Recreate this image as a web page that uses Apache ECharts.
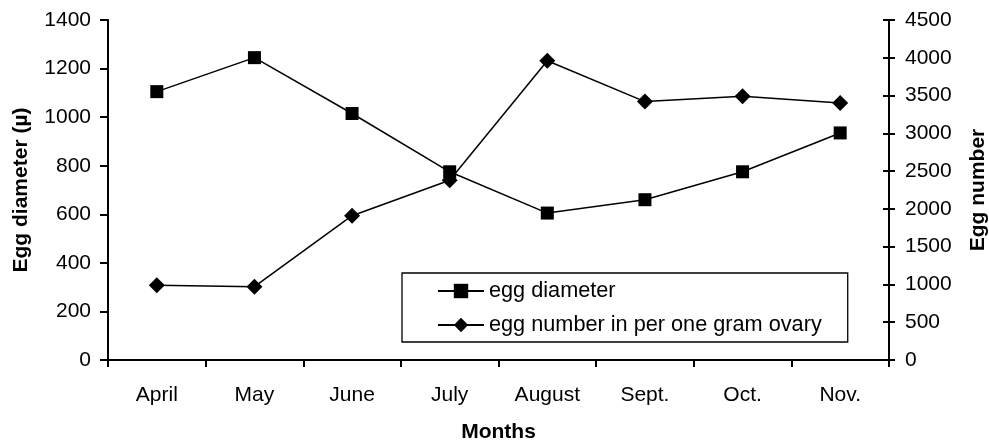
<!DOCTYPE html>
<html>
<head>
<meta charset="utf-8">
<script src="https://cdn.jsdelivr.net/npm/echarts@6/dist/echarts.min.js"></script>
<style>
html,body{margin:0;padding:0;background:#fff;}
#c{width:989px;height:441px;}
</style>
</head>
<body>
<div id="c"></div>
<script>
var months = ['April','May','June','July','August','Sept.','Oct.','Nov.'];
var eggDiameter = [1105, 1245, 1015, 775, 605, 660, 775, 935];
var eggNumber = [990, 970, 1910, 2380, 3960, 3420, 3490, 3400];
var leftTicks = {min: 0, max: 1400, interval: 200};
var rightTicks = {min: 0, max: 4500, interval: 500};

var FONT = '"Liberation Sans", Arial, sans-serif';
var plain = function (v) { return String(v); };
var chart = echarts.init(document.getElementById('c'), null, {renderer: 'canvas'});
var option = {
  animation: false,
  backgroundColor: '#fff',
  textStyle: {fontFamily: FONT},
  grid: {left: 108, right: 100, top: 20, bottom: 81, containLabel: false, outerBoundsMode: 'none'},
  legend: {
    orient: 'vertical',
    left: 402, top: 273,
    padding: [7, 26, 6, 35],
    itemGap: 12,
    itemWidth: 46, itemHeight: 18,
    borderColor: '#000', borderWidth: 1.3,
    textStyle: {fontFamily: FONT, fontSize: 21.7, color: '#000'},
    data: ['egg diameter', 'egg number in per one gram ovary']
  },
  xAxis: {
    type: 'category',
    data: months,
    boundaryGap: true,
    name: 'Months',
    nameLocation: 'middle',
    nameGap: 62,
    nameTextStyle: {fontFamily: FONT, fontSize: 21, fontWeight: 'bold', color: '#000'},
    axisLine: {lineStyle: {color: '#000', width: 2}},
    axisTick: {show: true, length: 7, inside: false, lineStyle: {color: '#000', width: 2}},
    axisLabel: {fontFamily: FONT, fontSize: 21, color: '#000', margin: 25},
    splitLine: {show: false}
  },
  yAxis: [
    {
      type: 'value', position: 'left',
      min: leftTicks.min, max: leftTicks.max, interval: leftTicks.interval,
      name: 'Egg diameter (µ)', nameLocation: 'middle', nameGap: 76, nameRotate: 90,
      nameTextStyle: {fontFamily: FONT, fontSize: 21, fontWeight: 'bold', color: '#000'},
      axisLine: {show: true, lineStyle: {color: '#000', width: 2}},
      axisTick: {show: true, length: 8, lineStyle: {color: '#000', width: 2}},
      axisLabel: {fontFamily: FONT, fontSize: 21, color: '#000', margin: 17, formatter: plain},
      splitLine: {show: false}
    },
    {
      type: 'value', position: 'right',
      min: rightTicks.min, max: rightTicks.max, interval: rightTicks.interval,
      name: 'Egg number', nameLocation: 'middle', nameGap: 79, nameRotate: 90,
      nameTextStyle: {fontFamily: FONT, fontSize: 21, fontWeight: 'bold', color: '#000'},
      axisLine: {show: true, lineStyle: {color: '#000', width: 2}},
      axisTick: {show: true, length: 6, lineStyle: {color: '#000', width: 2}},
      axisLabel: {fontFamily: FONT, fontSize: 21, color: '#000', margin: 16, formatter: plain},
      splitLine: {show: false}
    },
    {
      type: 'value', position: 'right',
      min: rightTicks.min, max: rightTicks.max, interval: rightTicks.interval,
      axisLine: {show: false},
      axisTick: {show: true, inside: true, length: 6, lineStyle: {color: '#000', width: 2}},
      axisLabel: {show: false},
      splitLine: {show: false}
    }
  ],
  series: [
    {
      name: 'egg diameter', type: 'line', yAxisIndex: 0,
      data: eggDiameter,
      symbol: 'rect', symbolSize: 13,
      itemStyle: {color: '#000'},
      lineStyle: {color: '#000', width: 1.5}
    },
    {
      name: 'egg number in per one gram ovary', type: 'line', yAxisIndex: 1,
      data: eggNumber,
      symbol: 'diamond', symbolSize: 16,
      itemStyle: {color: '#000'},
      lineStyle: {color: '#000', width: 1.5}
    }
  ]
};
chart.setOption(option);
</script>
</body>
</html>
